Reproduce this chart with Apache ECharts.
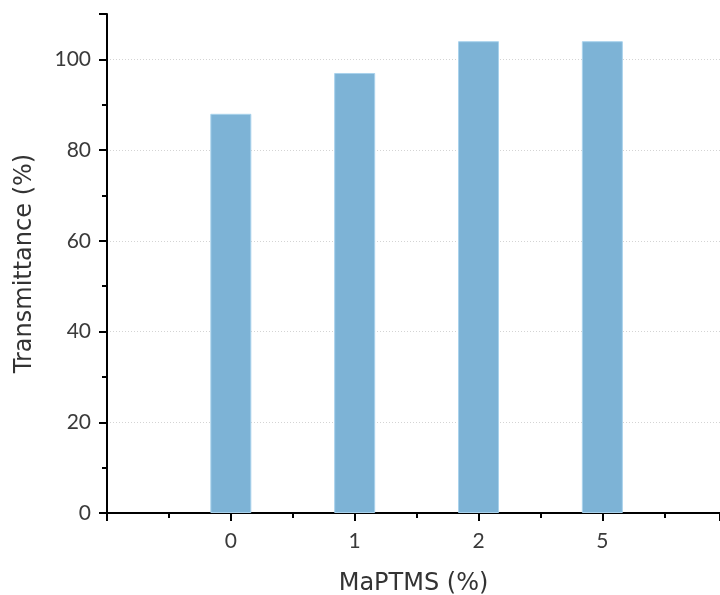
<!DOCTYPE html>
<html>
<head>
<meta charset="utf-8">
<script src="https://cdn.jsdelivr.net/npm/echarts@6/dist/echarts.min.js"></script>
<style>html,body{margin:0;padding:0;background:#fff}#c{width:720px;height:595px}</style>
</head>
<body>
<div id="c"></div>
<script>
var categories = ['0', '1', '2', '5'];
var transmittance = [88, 97, 104, 104];
var yTicks = [0, 20, 40, 60, 80, 100];

var chart = echarts.init(document.getElementById('c'));
var TITLE_FONT = 'DejaVu Sans';
var TICK_FONT = 'Lato';
chart.setOption({
  animation: false,
  backgroundColor: '#fff',
  grid: { left: 107, top: 14, bottom: 82, right: 0, containLabel: false, outerBoundsMode: 'none' },
  xAxis: {
    type: 'value', min: -1, max: 3.95, interval: 1,
    name: 'MaPTMS (%)', nameLocation: 'middle', nameGap: 59,
    nameTextStyle: { fontFamily: TITLE_FONT, fontSize: 24, color: '#333' },
    axisLine: { onZero: false, lineStyle: { color: '#000', width: 2 } },
    axisTick: { show: true, inside: false, length: 8, lineStyle: { color: '#000', width: 2 } },
    minorTick: { show: true, splitNumber: 2, length: 5, lineStyle: { color: '#000', width: 2 } },
    splitLine: { show: false },
    axisLabel: {
      margin: 18, fontFamily: TICK_FONT, fontSize: 21, color: '#3a3a3a',
      showMaxLabel: false,
      formatter: function (v) { return (Number.isInteger(v) && v >= 0 && v < categories.length) ? categories[v] : ''; }
    }
  },
  yAxis: {
    type: 'value', min: 0, max: 110, interval: 20,
    name: 'Transmittance (%)', nameLocation: 'middle', nameGap: 70,
    nameTextStyle: { fontFamily: TITLE_FONT, fontSize: 24, color: '#333' },
    axisLine: { show: true, onZero: false, lineStyle: { color: '#000', width: 2 } },
    axisTick: { show: true, inside: false, length: 8, lineStyle: { color: '#000', width: 2 } },
    minorTick: { show: true, splitNumber: 2, length: 5, lineStyle: { color: '#000', width: 2 } },
    splitLine: {
      show: true, showMinLine: false, showMaxLine: false,
      lineStyle: { color: '#d4d4d4', type: [1, 2], width: 1 }
    },
    axisLabel: {
      margin: 16, fontFamily: TICK_FONT, fontSize: 21, color: '#3a3a3a',
      showMaxLabel: false,
      formatter: function (v) { return yTicks.indexOf(v) >= 0 ? String(v) : ''; }
    }
  },
  series: [{
    type: 'bar',
    barWidth: 41,
    data: transmittance.map(function (v, i) { return [i, v]; }),
    itemStyle: { color: '#7db3d6', borderColor: '#a9d2ec', borderWidth: 1 }
  }]
});
</script>
</body>
</html>
